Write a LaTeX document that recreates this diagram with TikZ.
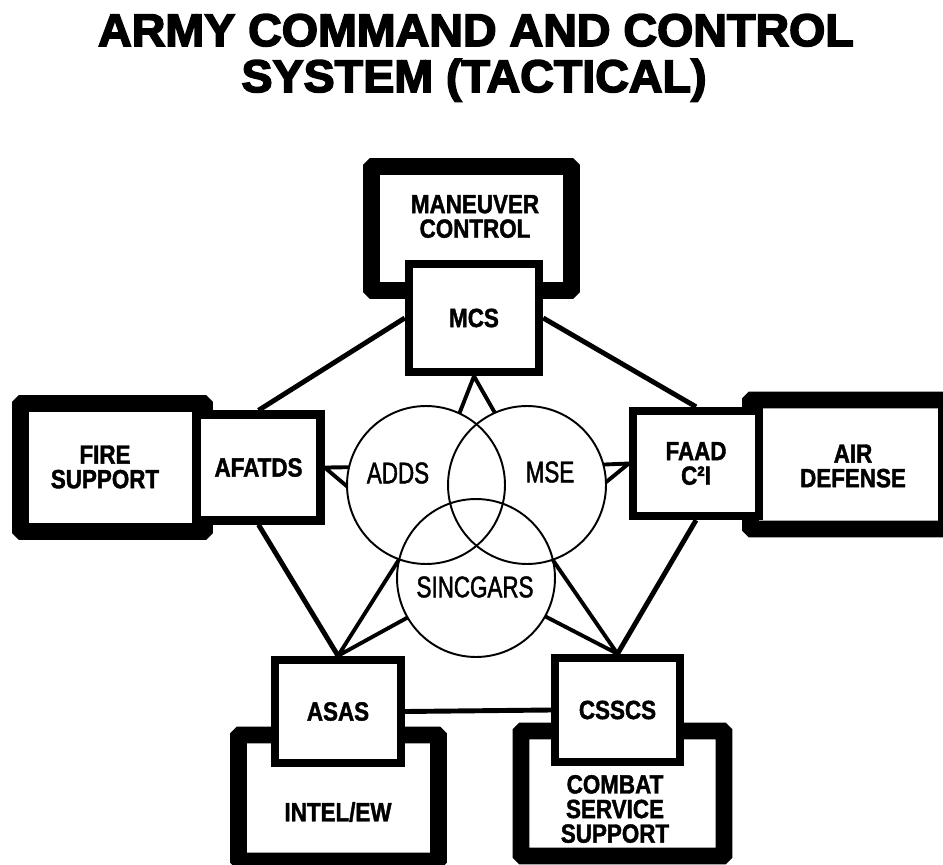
\documentclass[tikz,border=0pt]{standalone}
\usepackage{fontspec}
\setmainfont{Liberation Sans}
\newfontfamily\titlefont{Liberation Sans Bold}[FakeBold=3.5,FakeStretch=1.02]
\newfontfamily\boxfont{Liberation Sans Bold}[FakeBold=1.5,FakeStretch=0.85]
\newfontfamily\ringfont{Liberation Sans}[FakeStretch=0.75,FakeBold=1.5]

\tikzset{
  frame/.style = {draw=black, line width=9.6pt, fill=white, rounded corners=1pt, inner sep=0pt},
  sysbox/.style = {draw=black, line width=4.8pt, fill=white, inner sep=0pt,
                   font=\boxfont\fontsize{15}{14}\selectfont, align=center},
  boxtext/.style = {inner sep=0pt, font=\boxfont\fontsize{15}{14}\selectfont, align=center},
  ring/.style = {circle, draw=black, line width=1.1pt, inner sep=0pt, outer sep=0pt,
                 minimum size=3.16cm},
  ringtext/.style = {inner sep=0pt, font=\ringfont\fontsize{17}{17}\selectfont},
  link/.style = {line width=2.8pt},
  spoke/.style = {line width=2.2pt}
}

\begin{document}
\begin{tikzpicture}[x=0.02cm, y=-0.02cm]
\useasboundingbox (0,0) rectangle (943,865);
\clip (0,0) rectangle (943,865);

% title
\node[anchor=base, inner sep=0pt, font=\titlefont\fontsize{26}{26}\selectfont] (title1) at (476,46) {ARMY COMMAND AND CONTROL};
\node[anchor=base, inner sep=0pt, font=\titlefont\fontsize{26}{26}\selectfont] (title2) at (474,92) {SYSTEM (TACTICAL)};

% functional areas
\node[frame, minimum width=4cm, minimum height=2.48cm] (manframe) at (471.5,228.5) {};
\node[frame, minimum width=3.68cm, minimum height=2.56cm] (fireframe) at (112.5,467.5) {};
\node[frame, minimum width=3.92cm, minimum height=2.58cm] (airframe) at (848.5,464.5) {};
\node[frame, minimum width=4cm, minimum height=2.52cm] (intelframe) at (338.5,798) {};
\node[frame, minimum width=4.06cm, minimum height=2.5cm] (cssframe) at (622.5,793.5) {};

\node[boxtext] (mantxt) at (475,216.5) {MANEUVER\\CONTROL};
\node[boxtext] (firetxt) at (105,467) {FIRE\\SUPPORT};
\node[boxtext] (airtxt) at (853,466) {AIR\\DEFENSE};
\node[boxtext] (inteltxt) at (338,812) {INTEL/EW};
\node[boxtext] (csstxt) at (615,809) {COMBAT\\SERVICE\\SUPPORT};

% systems
\node[sysbox, minimum width=2.6cm, minimum height=2.16cm] (mcs) at (474,318) {MCS};
\node[sysbox, minimum width=2.48cm, minimum height=2.12cm] (afatds) at (258.5,467.5) {AFATDS};
\node[sysbox, minimum width=2.52cm, minimum height=2.1cm] (faad) at (696,463.5) {FAAD\\C²I};
\node[sysbox, minimum width=2.52cm, minimum height=2.06cm] (asas) at (338,711.5) {ASAS};
\node[sysbox, minimum width=2.5cm, minimum height=2.08cm] (csscs) at (617.5,710) {CSSCS};

% communications
\node[ring] (adds) at (426,485) {};
\node[ring] (mse) at (527,485) {};
\node[ring] (sincgars) at (476,578) {};
\node[ringtext] (addstxt) at (398,473) {ADDS};
\node[ringtext] (msetxt) at (550,472) {MSE};
\node[ringtext] (sinctxt) at (475,587) {SINCGARS};

\draw[link] (mcs.west) -- (afatds.north);
\draw[link] (mcs.east) -- (faad.north);
\draw[link] (afatds.south) -- (asas.north);
\draw[link] (faad.south) -- (csscs.north);
\draw[link] (asas.east) -- (csscs.west);

\draw[spoke] (adds.65) -- (mcs.south) -- (mse.114);
\draw[spoke] (adds.167) -- (afatds.east) -- (adds.181);
\draw[spoke] (mse.15) -- (faad.west) -- (mse.2);
\draw[spoke] (sincgars.166) -- (asas.north) -- (sincgars.210);
\draw[spoke] (sincgars.13) -- (csscs.north) -- (sincgars.331);
\end{tikzpicture}
\end{document}
